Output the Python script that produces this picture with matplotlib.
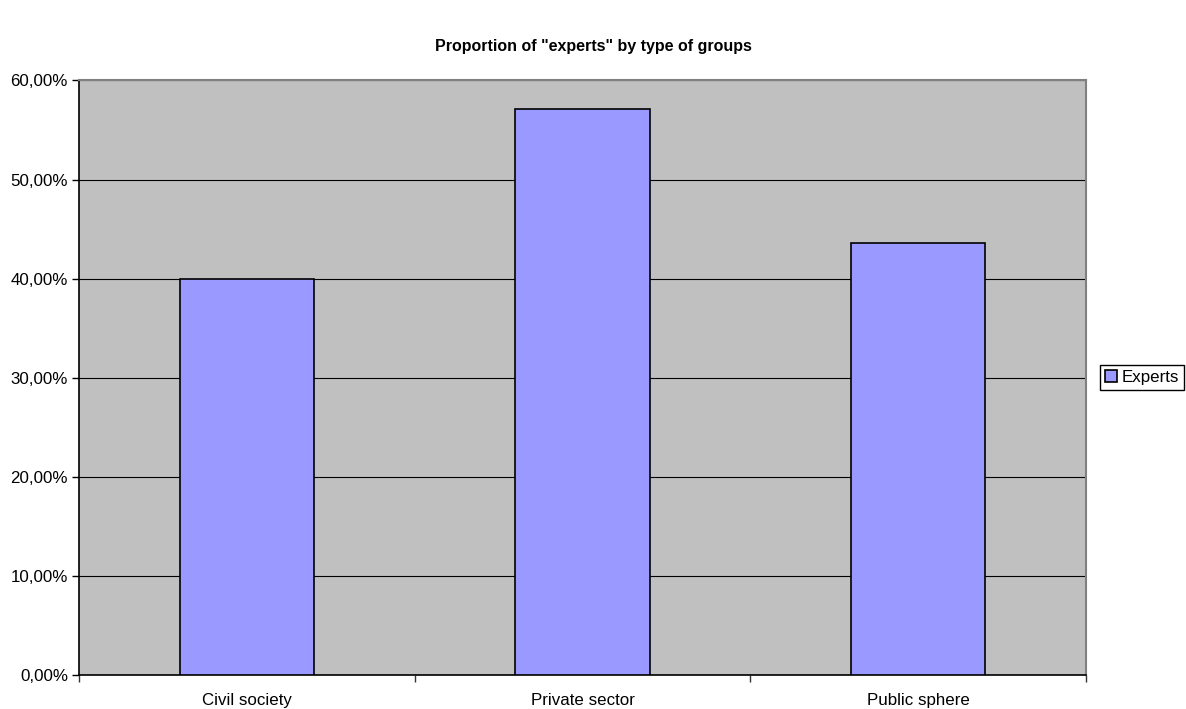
import numpy as np
import matplotlib.pyplot as plt
from matplotlib.ticker import FuncFormatter, FixedLocator

plt.rcParams["font.family"] = ["Liberation Sans", "DejaVu Sans"]

categories = ["Civil society", "Private sector", "Public sphere"]
experts = [0.40, 0.5714, 0.4363]

BAR_COLOR = "#9999FF"
BG_COLOR = "#C0C0C0"

fig = plt.figure(figsize=(11.86, 7.09), dpi=100)
ax = fig.add_axes([0.0666, 0.0484, 0.849, 0.8381])
ax.set_facecolor(BG_COLOR)

x = np.arange(len(categories))
ax.bar(x, experts, width=0.4, color=BAR_COLOR, edgecolor="black",
       linewidth=1.2, label="Experts", zorder=3)

ax.set_xlim(-0.5, len(categories) - 0.5)
ax.set_ylim(0, 0.6)
ax.set_yticks(np.arange(0, 0.61, 0.1))
ax.yaxis.set_major_formatter(FuncFormatter(lambda v, p: f"{v * 100:.2f}%".replace(".", ",")))
ax.grid(axis="y", color="black", linewidth=0.8, zorder=1)

ax.set_xticks(x)
ax.set_xticklabels(categories)
ax.xaxis.set_minor_locator(FixedLocator(np.arange(-0.5, len(categories), 1.0)))
ax.tick_params(axis="x", which="major", length=0, pad=13, labelsize=12.2)
ax.tick_params(axis="x", which="minor", length=5, width=1, color="#333333")
ax.tick_params(axis="y", length=5, width=1, labelsize=12.2, pad=3)

for side in ["left", "bottom"]:
    ax.spines[side].set_color("black")
    ax.spines[side].set_linewidth(1.2)
for side in ["top", "right"]:
    ax.spines[side].set_color("#808080")
    ax.spines[side].set_linewidth(1.5)

fig.text(0.5, 0.934, 'Proportion of "experts" by type of groups',
         ha="center", va="center", fontsize=11.5, fontweight="bold")

leg = ax.legend(loc="center left", bbox_to_anchor=(1.014, 0.5), fontsize=12.2,
                fancybox=False, framealpha=1, edgecolor="black",
                handlelength=0.7, handleheight=0.7, handletextpad=0.3,
                borderpad=0.3, borderaxespad=0)
leg.get_frame().set_linewidth(1.0)

fig.savefig("out.png", dpi=100)
